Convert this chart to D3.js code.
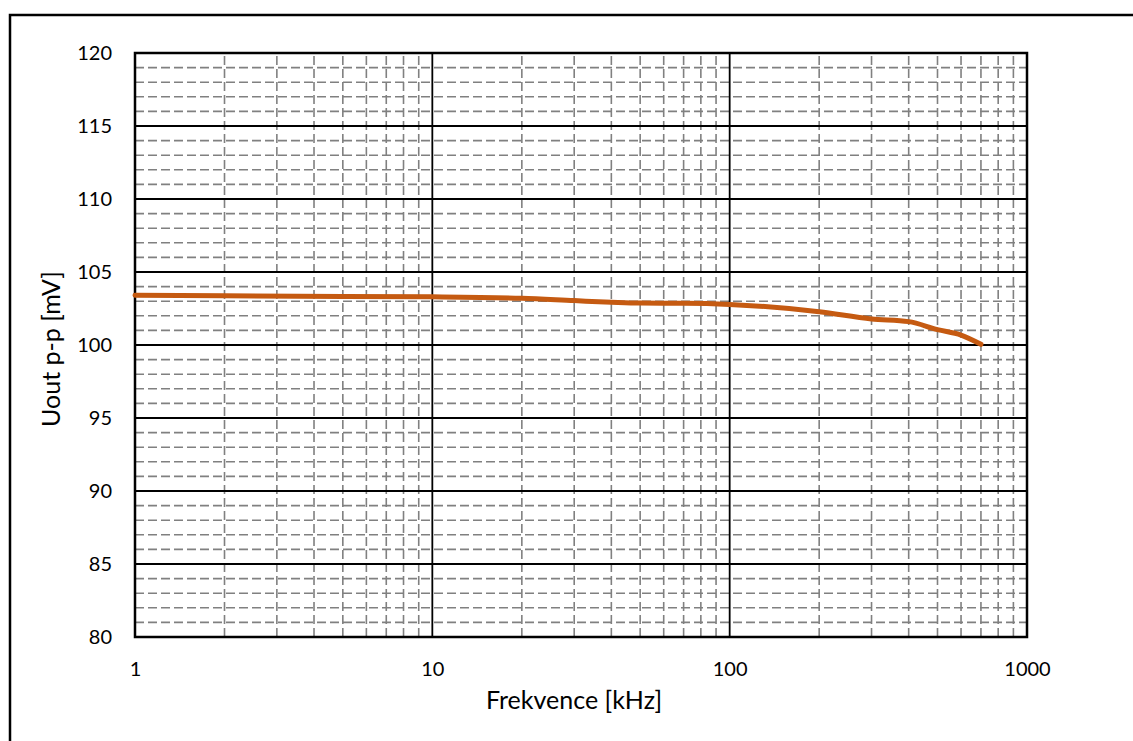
<!DOCTYPE html>
<html>
<head>
<meta charset="utf-8">
<script src="https://cdn.jsdelivr.net/npm/d3@7"></script>
<style>
  body { margin: 0; background: #fff; }
  text { font-family: Lato, "Open Sans", sans-serif; fill: #000; }
</style>
</head>
<body>
<div id="chart"></div>
<script>
// measured points, frequency in kHz and Uout p-p in mV
var freq = [1, 2, 5, 10, 20, 30, 40, 50, 70, 100, 200, 300, 400, 500, 600, 700];
var uout = [103.4, 103.37, 103.33, 103.3, 103.2, 103.04, 102.93, 102.87, 102.86, 102.78, 102.28, 101.78, 101.6, 101.05, 100.68, 100.05];

var xTicks = [1, 10, 100, 1000];
var yTicks = [80, 85, 90, 95, 100, 105, 110, 115, 120];

var w = 1133, h = 741;
var margin = {left: 135, top: 53, right: 106, bottom: 104};

var svg = d3.select("#chart")
    .append("svg")
    .attr("width", w)
    .attr("height", h);

// outer frame, runs off the page right and bottom like the original
svg.append("rect")
    .attr("x", 10).attr("y", 15)
    .attr("width", 1200).attr("height", 800)
    .attr("fill", "none")
    .attr("stroke", "#000")
    .attr("stroke-width", 2.5);

var x = d3.scaleLog().domain([1, 1000]).range([margin.left, w - margin.right]);
var y = d3.scaleLinear().domain([80, 120]).range([h - margin.bottom, margin.top]);

// minor gridlines (dashed grey)
var xMinor = [];
[1, 10, 100].forEach(function (d) {
    for (var k = 2; k <= 9; k++) xMinor.push(d * k);
});
var yMinor = d3.range(81, 120).filter(function (v) { return v % 5 != 0; });

var grid = svg.append("g");
grid.selectAll(".xmin")
    .data(xMinor)
    .enter()
    .append("line")
    .attr("x1", function (d) { return x(d); })
    .attr("x2", function (d) { return x(d); })
    .attr("y1", y(80)).attr("y2", y(120))
    .style("stroke", "#808080")
    .style("stroke-width", 1.6)
    .style("stroke-dasharray", "9,4");
grid.selectAll(".ymin")
    .data(yMinor)
    .enter()
    .append("line")
    .attr("x1", x(1)).attr("x2", x(1000))
    .attr("y1", function (d) { return y(d); })
    .attr("y2", function (d) { return y(d); })
    .style("stroke", "#808080")
    .style("stroke-width", 1.6)
    .style("stroke-dasharray", "9,4");

// major gridlines
grid.selectAll(".xmaj")
    .data(xTicks)
    .enter()
    .append("line")
    .attr("x1", function (d) { return x(d); })
    .attr("x2", function (d) { return x(d); })
    .attr("y1", y(80)).attr("y2", y(120))
    .style("stroke", "#000")
    .style("stroke-width", 1.8);
grid.selectAll(".ymaj")
    .data(yTicks)
    .enter()
    .append("line")
    .attr("x1", x(1)).attr("x2", x(1000))
    .attr("y1", function (d) { return y(d); })
    .attr("y2", function (d) { return y(d); })
    .style("stroke", "#000")
    .style("stroke-width", 1.8);

// plot frame
svg.append("rect")
    .attr("x", x(1)).attr("y", y(120))
    .attr("width", x(1000) - x(1))
    .attr("height", y(80) - y(120))
    .attr("fill", "none")
    .style("stroke", "#000")
    .style("stroke-width", 2.5);

// axes, only labels are visible
var xAxis = svg.append("g")
    .attr("transform", "translate(0," + y(80) + ")")
    .call(d3.axisBottom(x).tickValues(xTicks).tickFormat(d3.format("d")).tickSize(0).tickPadding(25));
var yAxis = svg.append("g")
    .attr("transform", "translate(" + x(1) + ",0)")
    .call(d3.axisLeft(y).tickValues(yTicks).tickSize(0).tickPadding(23));
[xAxis, yAxis].forEach(function (a) {
    a.select(".domain").remove();
    a.selectAll("text").style("font-size", "20px").style("font-family", "Lato, sans-serif");
});

// data line
var line = d3.line()
    .x(function (d, i) { return x(freq[i]); })
    .y(function (d) { return y(d); })
    .curve(d3.curveMonotoneX);

svg.append("path")
    .datum(uout)
    .attr("d", line)
    .attr("fill", "none")
    .style("stroke", "#C55A11")
    .style("stroke-width", 5)
    .style("stroke-linecap", "round");

// titles
svg.append("text")
    .attr("x", 574)
    .attr("y", 709)
    .attr("text-anchor", "middle")
    .style("font-size", "25px")
    .text("Frekvence [kHz]");

svg.append("text")
    .attr("transform", "translate(60,349) rotate(-90)")
    .attr("text-anchor", "middle")
    .style("font-size", "25px")
    .text("Uout p-p [mV]");
</script>
</body>
</html>
